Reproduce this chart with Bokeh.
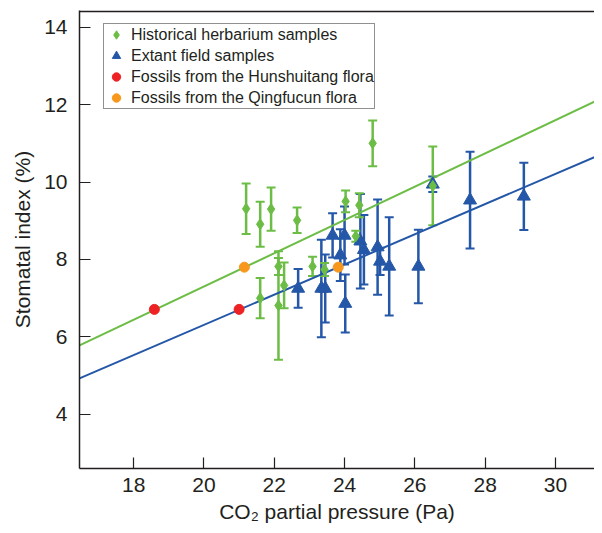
from bokeh.plotting import figure
from bokeh.models import (Whisker, ColumnDataSource, Legend, LegendItem,
                          Range1d, TeeHead, FixedTicker, BoxAnnotation)
from bokeh.embed import file_html
from bokeh.resources import INLINE

# ---- data ----
herb_x = [21.20, 21.60, 21.60, 21.91, 22.12, 22.12, 22.28, 22.65, 23.09, 23.43, 24.03, 24.32, 24.42, 24.80, 26.51]
herb_y = [9.31, 7.00, 8.91, 9.30, 7.82, 6.81, 7.33, 9.01, 7.82, 7.74, 9.50, 8.60, 9.40, 11.00, 9.90]
herb_err = [0.65, 0.52, 0.58, 0.56, 0.22, 1.40, 0.59, 0.33, 0.25, 0.17, 0.28, 0.14, 0.31, 0.59, 1.02]

field_x = [22.68, 23.34, 23.45, 23.66, 23.88, 24.00, 24.02, 24.45, 24.55, 24.94, 25.01, 25.27, 26.10, 26.51, 27.57, 29.10]
field_y = [7.25, 7.25, 7.25, 8.62, 8.11, 8.62, 6.86, 8.47, 8.25, 8.32, 7.95, 7.82, 7.82, 9.94, 9.53, 9.63]
field_err = [0.50, 1.26, 0.88, 0.57, 0.67, 0.75, 0.75, 1.22, 0.90, 1.23, 0.35, 1.27, 0.95, 0.20, 1.25, 0.87]

hun_x = [18.59, 21.00]
hun_y = [6.71, 6.71]
qing_x = [21.15, 23.82]
qing_y = [7.80, 7.80]

# regression lines: (slope, intercept)
herb_fit = (0.43, -1.30)
field_fit = (0.39, -1.49)

x_ticks = [18, 20, 22, 24, 26, 28, 30]
y_ticks = [4, 6, 8, 10, 12, 14]
x_lim = (16.46, 31.11)
y_lim = (2.60, 14.43)

GREEN = "#6cbd45"
BLUE = "#2457a7"
RED = "#ed2224"
ORANGE = "#f7981d"
INK = "#231f20"
FONT = "Liberation Sans"

p = figure(width=594, height=525,
           x_range=Range1d(*x_lim), y_range=Range1d(*y_lim),
           output_backend="svg", toolbar_location=None,
           min_border_left=79, min_border_right=0,
           min_border_top=10, min_border_bottom=57)
p.grid.visible = False
p.outline_line_color = None
p.background_fill_color = "white"

x_axis = p.below[0]
y_axis = p.left[0]

# top frame line: a thin dark band along the top edge of the plot area
p.add_layout(BoxAnnotation(top=y_lim[1], bottom=y_lim[1] - 0.045,
                           fill_color=INK, fill_alpha=1.0,
                           line_color=None, level="overlay"))

# trend lines
fx = list(x_lim)
p.line(fx, [herb_fit[0] * v + herb_fit[1] for v in fx], line_color=GREEN, line_width=2)
p.line(fx, [field_fit[0] * v + field_fit[1] for v in fx], line_color=BLUE, line_width=2)

def add_errors(xs, ys, errs, color):
    src = ColumnDataSource(dict(x=xs,
                                upper=[y + e for y, e in zip(ys, errs)],
                                lower=[y - e for y, e in zip(ys, errs)]))
    w = Whisker(source=src, base="x", upper="upper", lower="lower",
                line_color=color, line_width=2.5,
                upper_head=TeeHead(size=9, line_color=color, line_width=2),
                lower_head=TeeHead(size=9, line_color=color, line_width=2))
    p.add_layout(w)

add_errors(field_x, field_y, field_err, BLUE)
r_field = p.scatter(field_x, field_y, marker="triangle", size=13,
                    fill_color=BLUE, line_color=BLUE)
add_errors(herb_x, herb_y, herb_err, GREEN)
r_herb = p.scatter(herb_x, herb_y, marker="diamond", size=11,
                   fill_color=GREEN, line_color=GREEN)
r_hun = p.scatter(hun_x, hun_y, marker="circle", size=10,
                  fill_color=RED, line_color=RED)
r_qing = p.scatter(qing_x, qing_y, marker="circle", size=10,
                   fill_color=ORANGE, line_color=ORANGE)

# axes
for ax in (x_axis, y_axis):
    ax.axis_line_color = INK
    ax.axis_line_width = 1.5
    ax.major_tick_in = 11
    ax.major_tick_out = 0
    ax.major_tick_line_color = INK
    ax.major_tick_line_width = 1.2
    ax.minor_tick_line_color = None
    ax.major_label_text_font = FONT
    ax.major_label_text_font_size = "21px"
    ax.major_label_text_color = INK
    ax.axis_label_text_font = FONT
    ax.axis_label_text_font_size = "21px"
    ax.axis_label_text_font_style = "normal"
    ax.axis_label_text_color = INK

x_axis.ticker = FixedTicker(ticks=x_ticks)
y_axis.ticker = FixedTicker(ticks=y_ticks)
x_axis.axis_label = "CO\u2082 partial pressure (Pa)"
y_axis.axis_label = "Stomatal index (%)"
x_axis.major_label_standoff = 9
x_axis.axis_label_standoff = 5
y_axis.major_label_standoff = 12
y_axis.axis_label_standoff = 7

legend = Legend(items=[
    LegendItem(label="Historical herbarium samples", renderers=[r_herb]),
    LegendItem(label="Extant field samples", renderers=[r_field]),
    LegendItem(label="Fossils from the Hunshuitang flora", renderers=[r_hun]),
    LegendItem(label="Fossils from the Qingfucun flora", renderers=[r_qing]),
], location=(24, 359))
legend.label_text_font = FONT
legend.label_text_font_size = "16px"
legend.label_text_color = INK
legend.border_line_color = INK
legend.border_line_width = 1.2
legend.background_fill_color = "white"
legend.background_fill_alpha = 1
legend.padding = 0
legend.spacing = 0
legend.margin = 0
legend.glyph_width = 24
legend.glyph_height = 21
legend.label_height = 21
legend.label_standoff = 3
p.add_layout(legend)

open("out.html", "w").write(file_html(p, INLINE))
